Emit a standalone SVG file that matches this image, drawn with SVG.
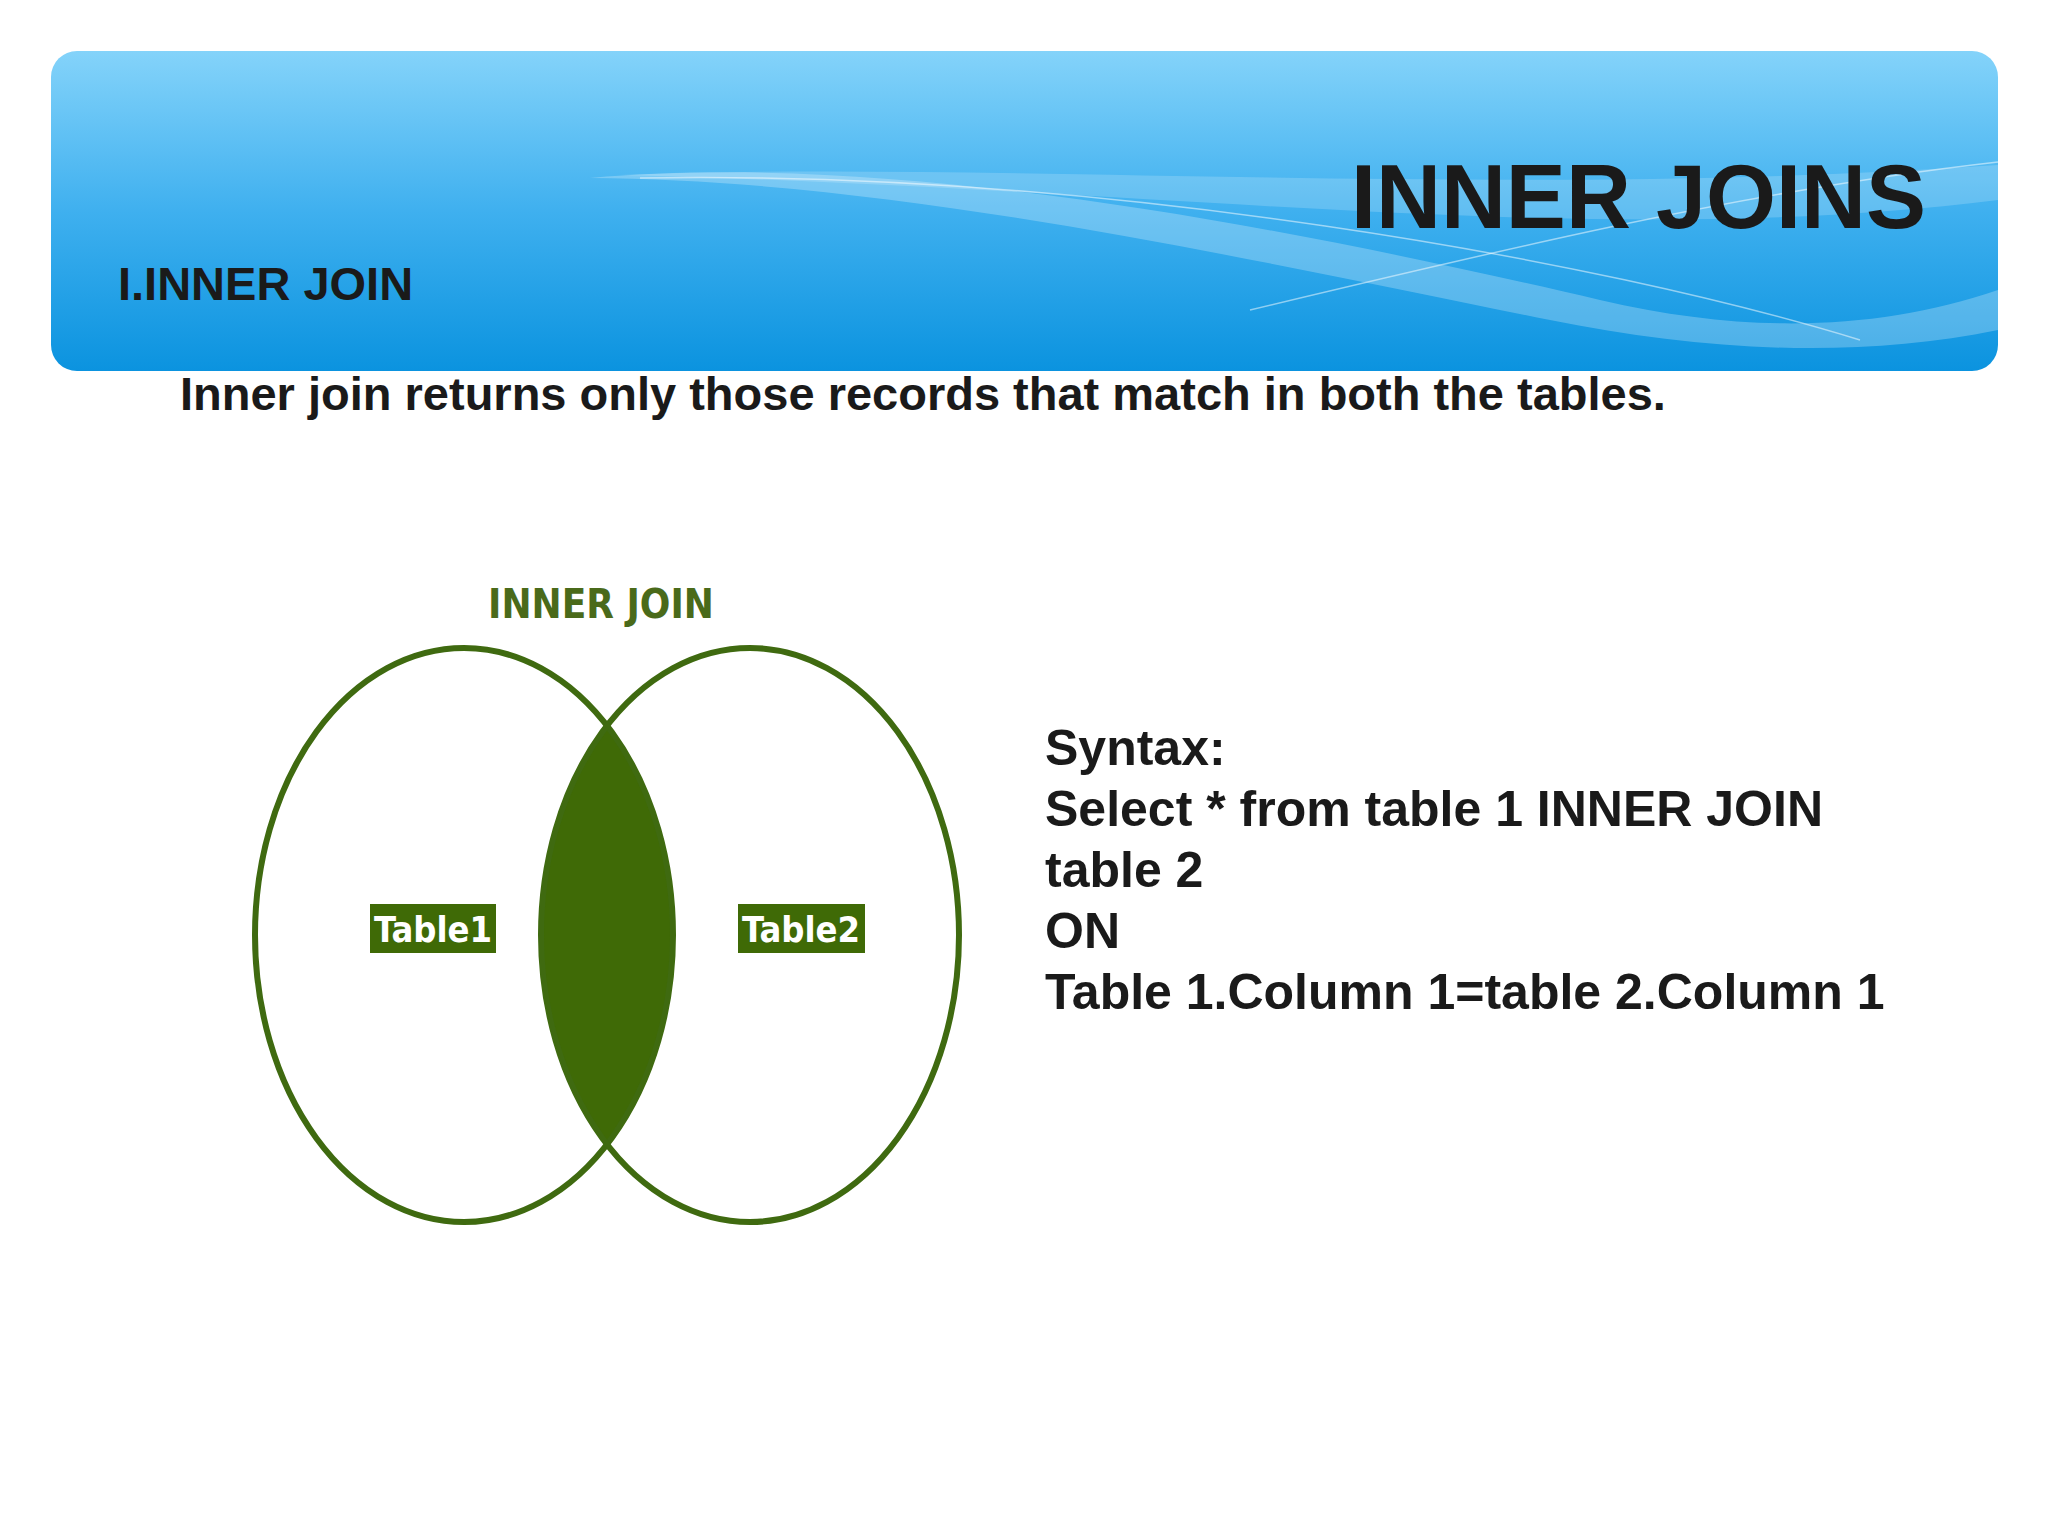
<svg xmlns="http://www.w3.org/2000/svg" width="2048" height="1536" viewBox="0 0 2048 1536">
<defs>
<linearGradient id="hg" x1="0" y1="0" x2="0" y2="1">
<stop offset="0" stop-color="#84d3fa"/>
<stop offset="0.5" stop-color="#3fb0ef"/>
<stop offset="1" stop-color="#0b93df"/>
</linearGradient>
<style>
.b{font-family:"Liberation Sans",Arial,sans-serif;font-weight:bold;fill:#1a1a1a}
.v{fill:none;stroke:#3f6a10;stroke-width:6}
.tl{font-family:"DejaVu Sans Condensed","Liberation Sans Narrow",sans-serif;font-weight:bold;font-size:36px;fill:#ffffff}
</style>
</defs>
<rect width="2048" height="1536" fill="#ffffff"/>
<g id="header">
<rect x="51" y="51" width="1947" height="320" rx="26" fill="url(#hg)"/>
<path d="M590,178 C900,150 1300,230 1600,300 C1750,335 1880,330 1998,290 L1998,330 C1850,360 1700,350 1550,320 C1250,260 900,180 590,178 Z" fill="#ffffff" opacity="0.25"/>
<path d="M620,175 C1000,160 1500,200 1998,165 L1998,200 C1600,250 1200,190 620,175 Z" fill="#ffffff" opacity="0.18"/>
<path d="M1250,310 C1500,250 1750,190 1998,162" fill="none" stroke="#ffffff" stroke-opacity="0.5" stroke-width="1.5"/>
<path d="M640,178 C1100,170 1600,260 1860,340" fill="none" stroke="#ffffff" stroke-opacity="0.5" stroke-width="1.5"/>
<text class="b" x="1926" y="228" font-size="90" text-anchor="end">INNER JOINS</text>
<text class="b" x="118" y="300" font-size="47">I.INNER JOIN</text>
</g>
<text class="b" x="180" y="410" font-size="47">Inner join returns only those records that match in both the tables.</text>
<g id="venn">
<text x="601" y="618" text-anchor="middle" font-family="DejaVu Sans Condensed,Liberation Sans Narrow,sans-serif" font-weight="bold" font-size="40" fill="#4a6a1a">INNER JOIN</text>
<path d="M607,726 A209,287 0 0,1 607,1144 A209,287 0 0,1 607,726 Z" fill="#3f6a06"/>
<ellipse class="v" cx="464" cy="935" rx="209" ry="287"/>
<ellipse class="v" cx="750" cy="935" rx="209" ry="287"/>
<rect x="370" y="904" width="126" height="49" fill="#3f6a06"/>
<text class="tl" x="433" y="942" text-anchor="middle">Table1</text>
<rect x="738" y="904" width="127" height="49" fill="#3f6a06"/>
<text class="tl" x="801" y="942" text-anchor="middle">Table2</text>
</g>
<g id="syntax" class="b" font-size="50">
<text x="1045" y="765">Syntax:</text>
<text x="1045" y="826">Select * from table 1 INNER JOIN</text>
<text x="1045" y="887">table 2</text>
<text x="1045" y="948">ON</text>
<text x="1045" y="1009">Table 1.Column 1=table 2.Column 1</text>
</g>
</svg>
